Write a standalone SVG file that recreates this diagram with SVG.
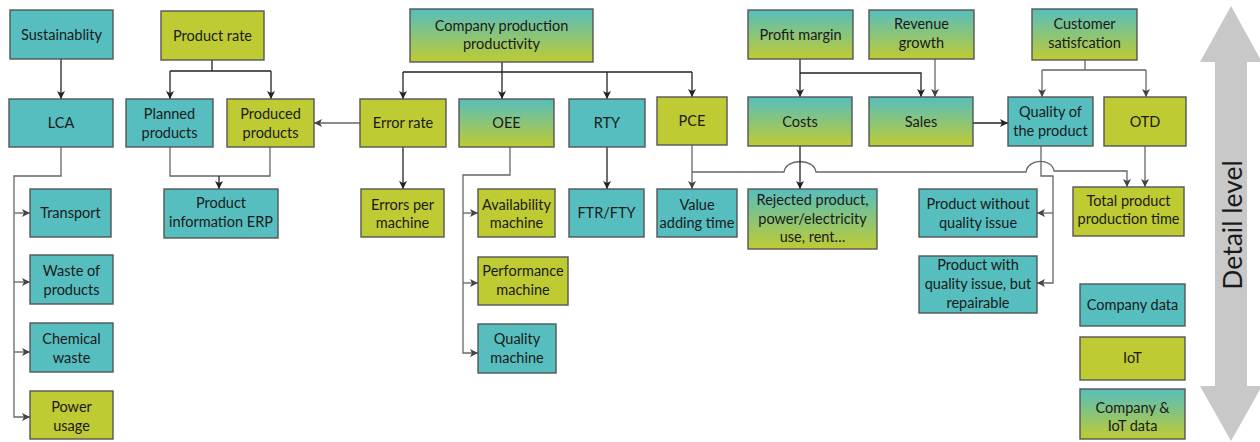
<svg xmlns="http://www.w3.org/2000/svg" width="1260" height="442" viewBox="0 0 1260 442">
  <defs>
    <linearGradient id="mix" x1="0" y1="0" x2="0" y2="1">
      <stop offset="0" stop-color="#56BEBE"/>
      <stop offset="1" stop-color="#BFCB32"/>
    </linearGradient>
    <marker id="arr" viewBox="0 0 10 10" refX="10" refY="5" markerWidth="8" markerHeight="8" markerUnits="userSpaceOnUse" orient="auto">
      <path d="M0,0 L10,5 L0,10 L2.5,5 z" fill="#222"/>
    </marker>
    <marker id="arrg" viewBox="0 0 10 10" refX="10" refY="5" markerWidth="8" markerHeight="8" markerUnits="userSpaceOnUse" orient="auto">
      <path d="M0,0 L10,5 L0,10 L2.5,5 z" fill="#444"/>
    </marker>
  </defs>
  <style>
    rect { stroke: #555; stroke-width: 1.4; }
    .teal { fill: #56BEBE; }
    .olive { fill: #BFCB32; }
    .mix { fill: url(#mix); }
    text { font-family: Lato, "Open Sans", "Liberation Sans", sans-serif; font-size: 14.5px; fill: #1a1a1a; text-anchor: middle; }
    .ln { fill: none; stroke: #222; stroke-width: 1.3; }
    .lg { fill: none; stroke: #666; stroke-width: 1.3; }
    .axis { font-size: 26.5px; fill: #1a1a1a; }
  </style>

  <!-- connectors -->
  <g id="connectors">
    <path class="ln" d="M61,59 V99" marker-end="url(#arr)"/>
    <path class="ln" d="M212,60 V71 M170,71 H271"/>
    <path class="ln" d="M170,71 V99" marker-end="url(#arr)"/>
    <path class="ln" d="M271,71 V99" marker-end="url(#arr)"/>
    <path class="lg" d="M170,147 V176 H270 V147"/>
    <path class="ln" d="M219,176 V189" marker-end="url(#arr)"/>
    <path class="lg" d="M61,147 V176 H14 V417 H30" marker-end="url(#arrg)"/>
    <path class="lg" d="M14,213 H30" marker-end="url(#arrg)"/>
    <path class="lg" d="M14,282 H30" marker-end="url(#arrg)"/>
    <path class="lg" d="M14,352 H30" marker-end="url(#arrg)"/>
    <path class="ln" d="M502,62 V72 M403,72 H692"/>
    <path class="ln" d="M403,72 V99" marker-end="url(#arr)"/>
    <path class="ln" d="M502,72 V99" marker-end="url(#arr)"/>
    <path class="ln" d="M607,72 V99" marker-end="url(#arr)"/>
    <path class="ln" d="M692,72 V97" marker-end="url(#arr)"/>
    <path class="lg" d="M360,123 H314" marker-end="url(#arrg)"/>
    <path class="ln" d="M403,147 V189" marker-end="url(#arr)"/>
    <path class="lg" d="M510,147 V175 H463 V353 H478" marker-end="url(#arrg)"/>
    <path class="lg" d="M463,213 H478" marker-end="url(#arrg)"/>
    <path class="lg" d="M463,283 H478" marker-end="url(#arrg)"/>
    <path class="ln" d="M607,147 V189" marker-end="url(#arr)"/>
    <path class="lg" d="M692,145 V189" marker-end="url(#arrg)"/>
    <path class="lg" d="M692,172 H784 C786,158 814,158 816,172 H1026 C1028,158 1052,158 1054,171 H1127 V187" marker-end="url(#arrg)"/>
    <path class="ln" d="M800,59 V97" marker-end="url(#arr)"/>
    <path class="ln" d="M800,73 H921 V97" marker-end="url(#arr)"/>
    <path class="lg" d="M935,59 V97" marker-end="url(#arrg)"/>
    <path class="ln" d="M800,146 V189" marker-end="url(#arr)"/>
    <path class="ln" d="M973,123 H1008" marker-end="url(#arr)"/>
    <path class="lg" d="M1085,60 V70 M1042,70 H1146"/>
    <path class="lg" d="M1042,70 V97" marker-end="url(#arrg)"/>
    <path class="lg" d="M1146,70 V97" marker-end="url(#arrg)"/>
    <path class="lg" d="M1145,146 V187" marker-end="url(#arrg)"/>
    <path class="lg" d="M1041,146 V176 H1053 V283 H1037" marker-end="url(#arrg)"/>
    <path class="lg" d="M1053,213 H1037" marker-end="url(#arrg)"/>
  </g>

  <!-- top level -->
  <g id="sustainability"><rect class="teal" x="10" y="10" width="103" height="49"/><text x="61.5" y="40">Sustainablity</text></g>
  <g id="product-rate"><rect class="olive" x="161" y="11" width="103" height="49"/><text x="212.5" y="41">Product rate</text></g>
  <g id="company-productivity"><rect class="mix" x="410" y="9" width="183" height="53"/><text x="501.5" y="31">Company production</text><text x="501.5" y="49">productivity</text></g>
  <g id="profit-margin"><rect class="mix" x="748" y="10" width="105" height="49"/><text x="800.5" y="40">Profit margin</text></g>
  <g id="revenue-growth"><rect class="mix" x="869" y="10" width="105" height="49"/><text x="921.5" y="29">Revenue</text><text x="921.5" y="48">growth</text></g>
  <g id="customer-satisfaction"><rect class="mix" x="1032" y="9" width="105" height="51"/><text x="1084.5" y="29">Customer</text><text x="1084.5" y="48">satisfcation</text></g>

  <!-- second level -->
  <g id="lca"><rect class="teal" x="9" y="99" width="104" height="48"/><text x="61" y="128">LCA</text></g>
  <g id="planned-products"><rect class="teal" x="126" y="99" width="87" height="48"/><text x="169.5" y="118.5">Planned</text><text x="169.5" y="137.5">products</text></g>
  <g id="produced-products"><rect class="olive" x="227" y="99" width="87" height="48"/><text x="270.5" y="118.5">Produced</text><text x="270.5" y="137.5">products</text></g>
  <g id="error-rate"><rect class="olive" x="360" y="99" width="86" height="48"/><text x="403" y="128">Error rate</text></g>
  <g id="oee"><rect class="mix" x="459" y="99" width="95" height="48"/><text x="506.5" y="128">OEE</text></g>
  <g id="rty"><rect class="teal" x="569" y="99" width="76" height="48"/><text x="607" y="128">RTY</text></g>
  <g id="pce"><rect class="olive" x="657" y="97" width="70" height="48"/><text x="692" y="126">PCE</text></g>
  <g id="costs"><rect class="mix" x="748" y="97" width="104" height="49"/><text x="800" y="126.5">Costs</text></g>
  <g id="sales"><rect class="mix" x="869" y="97" width="104" height="49"/><text x="921" y="126.5">Sales</text></g>
  <g id="quality-product"><rect class="teal" x="1008" y="97" width="85" height="49"/><text x="1050.5" y="117">Quality of</text><text x="1050.5" y="136">the product</text></g>
  <g id="otd"><rect class="olive" x="1104" y="97" width="82" height="49"/><text x="1145" y="126.5">OTD</text></g>

  <!-- detail level -->
  <g id="product-info-erp"><rect class="teal" x="164" y="189" width="114" height="49"/><text x="221" y="208">Product</text><text x="221" y="227">information ERP</text></g>
  <g id="transport"><rect class="teal" x="30" y="189" width="81" height="48"/><text x="70.5" y="218">Transport</text></g>
  <g id="waste-products"><rect class="teal" x="30" y="255" width="83" height="49"/><text x="71.5" y="276">Waste of</text><text x="71.5" y="295">products</text></g>
  <g id="chemical-waste"><rect class="teal" x="30" y="323" width="83" height="49"/><text x="71.5" y="344">Chemical</text><text x="71.5" y="363">waste</text></g>
  <g id="power-usage"><rect class="olive" x="30" y="391" width="83" height="48"/><text x="71.5" y="412">Power</text><text x="71.5" y="431">usage</text></g>
  <g id="errors-per-machine"><rect class="olive" x="361" y="189" width="83" height="48"/><text x="402.5" y="210">Errors per</text><text x="402.5" y="228">machine</text></g>
  <g id="availability-machine"><rect class="olive" x="478" y="189" width="77" height="48"/><text x="516.5" y="210">Availability</text><text x="516.5" y="228">machine</text></g>
  <g id="performance-machine"><rect class="olive" x="478" y="257" width="90" height="48"/><text x="523" y="276">Performance</text><text x="523" y="295">machine</text></g>
  <g id="quality-machine"><rect class="teal" x="478" y="324" width="78" height="49"/><text x="517" y="344">Quality</text><text x="517" y="363">machine</text></g>
  <g id="ftr-fty"><rect class="teal" x="569" y="189" width="75" height="48"/><text x="606.5" y="218">FTR/FTY</text></g>
  <g id="value-adding-time"><rect class="teal" x="657" y="189" width="80" height="48"/><text x="697" y="210">Value</text><text x="697" y="228">adding time</text></g>
  <g id="rejected-product"><rect class="mix" x="748" y="189" width="129" height="60"/><text x="812.5" y="205">Rejected product,</text><text x="812.5" y="224">power/electricity</text><text x="812.5" y="242">use, rent…</text></g>
  <g id="product-without-issue"><rect class="teal" x="919" y="189" width="118" height="48"/><text x="978" y="209">Product without</text><text x="978" y="228">quality issue</text></g>
  <g id="product-with-issue"><rect class="teal" x="919" y="256" width="118" height="57"/><text x="978" y="270">Product with</text><text x="978" y="289">quality issue, but</text><text x="978" y="308">repairable</text></g>
  <g id="total-production-time"><rect class="olive" x="1073" y="187" width="111" height="49"/><text x="1128.5" y="206">Total product</text><text x="1128.5" y="224">production time</text></g>

  <!-- legend -->
  <g id="legend-company"><rect class="teal" x="1080" y="284" width="105" height="42"/><text x="1132.5" y="310">Company data</text></g>
  <g id="legend-iot"><rect class="olive" x="1080" y="337" width="105" height="43"/><text x="1132.5" y="363">IoT</text></g>
  <g id="legend-both"><rect class="mix" x="1080" y="389" width="105" height="50"/><text x="1132.5" y="413">Company &amp;</text><text x="1132.5" y="431">IoT data</text></g>

  <!-- detail level axis -->
  <g id="detail-axis">
    <polygon points="1231,6 1262,62 1247,62 1247,386 1262,386 1231,441 1200,386 1215,386 1215,62 1200,62" fill="#C8C8C8"/>
    <text class="axis" transform="translate(1242,225) rotate(-90)">Detail level</text>
  </g>
</svg>
